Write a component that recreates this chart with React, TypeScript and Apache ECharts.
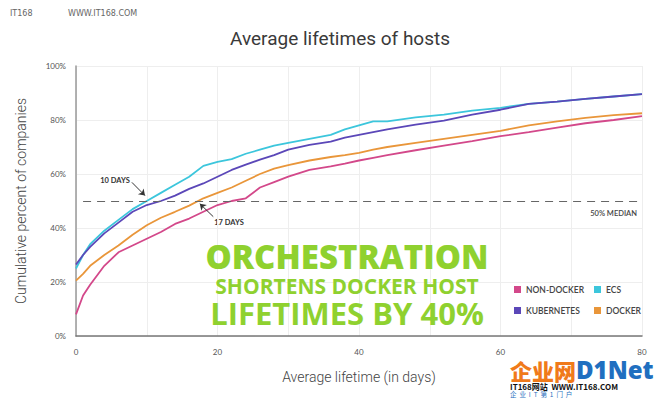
import React, { useEffect, useRef } from "react";
import * as echarts from "echarts";

const days = [0, 1, 2, 4, 6, 8, 10, 12, 14, 16, 18, 20, 22, 24, 26, 28, 30, 33, 36, 38, 40, 42, 44, 48, 52, 56, 60, 64, 68, 72, 76, 80];
const nonDocker = [8, 15, 19, 26, 31, 33.5, 36, 38.5, 41.5, 43.5, 46, 48.5, 50, 51, 55, 57, 59, 61.5, 62.8, 63.8, 65, 66, 67, 68.8, 70.5, 72.2, 74, 75.5, 77.2, 78.8, 80, 81.4];
const docker = [20.5, 23, 26, 30, 33.5, 37.5, 41, 43.8, 46, 48.3, 51, 53, 55, 57.5, 60, 62, 63.3, 65, 66.3, 67, 67.8, 69, 70, 71.5, 73, 74.5, 76, 78, 79.5, 80.8, 81.8, 82.5];
const kubernetes = [26.5, 30, 33, 38, 42, 46, 48.5, 50, 52, 54.5, 56.5, 59, 61.5, 63.5, 65.3, 67, 69, 70.8, 72, 73.5, 74.5, 75.5, 76.5, 78.3, 79.8, 82, 83.8, 86, 86.8, 87.8, 88.7, 89.6];
const ecs = [25, 30, 34, 39, 43, 47, 50, 53, 56, 59, 63, 64.5, 65.5, 67.5, 69, 70.5, 71.5, 73, 74.5, 76.5, 78, 79.5, 79.5, 81, 82, 83.5, 84.5, 86, 86.8, 87.8, 88.7, 89.6];

const median = 50;
const arrow10 = [[7.9, 56.9], [9.75, 52]];
const arrow17 = [[19.4, 44.2], [17.5, 49]];

const COLORS = {
  nonDocker: "#d3488a",
  ecs: "#3cc6dc",
  kubernetes: "#5b47b8",
  docker: "#e9963a",
};

const pairs = (ys: number[]) => days.map((d, i) => [d, ys[i]]);

export default function App() {
  const ref = useRef<HTMLDivElement>(null);
  useEffect(() => {
    document.body.style.margin = "0";
    const chart = echarts.init(ref.current!, null, { renderer: "svg" });
    const font = "Lato";
    const legendText = { fontSize: 8.5, fontWeight: 600, color: "#444", fontFamily: font };
    const green = "#8fd12f";
    chart.setOption({
      animation: false,
      backgroundColor: "#fff",
      title: {
        text: "Average lifetimes of hosts",
        left: 335,
        textAlign: "center",
        top: 24,
        textStyle: { fontSize: 19, fontWeight: 400, color: "#3a3a3a", fontFamily: "Roboto" },
      },
      grid: { left: 76, right: 28, top: 66, bottom: 62 },
      legend: [
        {
          data: ["NON-DOCKER", "KUBERNETES"],
          orient: "vertical",
          left: 509,
          top: 280,
          itemWidth: 7,
          itemHeight: 7,
          itemGap: 12,
          icon: "rect",
          textStyle: legendText,
        },
        {
          data: ["ECS", "DOCKER"],
          orient: "vertical",
          left: 589,
          top: 280,
          itemWidth: 7,
          itemHeight: 7,
          itemGap: 12,
          icon: "rect",
          textStyle: legendText,
        },
      ],
      xAxis: {
        type: "value",
        min: 0,
        max: 80,
        interval: 10,
        name: "Average lifetime (in days)",
        nameLocation: "middle",
        nameGap: 34,
        nameTextStyle: { fontSize: 14, color: "#444", fontFamily: "Roboto", fontWeight: 300 },
        axisLine: { lineStyle: { color: "#777", width: 1.5 } },
        axisTick: { show: false },
        axisLabel: {
          fontSize: 8,
          color: "#555",
          fontFamily: font,
          margin: 12,
          formatter: (v: number) => (v % 20 === 0 ? String(v) : ""),
        },
        splitLine: { show: true, lineStyle: { color: "#eeeeee" } },
      },
      yAxis: {
        type: "value",
        min: 0,
        max: 100,
        interval: 20,
        name: "Cumulative percent of companies",
        nameLocation: "middle",
        nameGap: 48,
        nameTextStyle: { fontSize: 14, color: "#444", fontFamily: "Roboto", fontWeight: 300 },
        axisLine: { show: true, lineStyle: { color: "#999", width: 1.5 } },
        axisTick: { show: false },
        axisLabel: { fontSize: 8, color: "#555", fontFamily: font, margin: 10, formatter: "{value}%" },
        splitLine: { show: true, lineStyle: { color: "#eeeeee" } },
      },
      series: [
        {
          name: "NON-DOCKER",
          type: "line",
          data: pairs(nonDocker),
          showSymbol: false,
          color: COLORS.nonDocker,
          lineStyle: { width: 1.8 },
          z: 3,
        },
        {
          name: "ECS",
          type: "line",
          data: pairs(ecs),
          showSymbol: false,
          color: COLORS.ecs,
          lineStyle: { width: 1.8 },
          z: 3,
        },
        {
          name: "KUBERNETES",
          type: "line",
          data: pairs(kubernetes),
          showSymbol: false,
          color: COLORS.kubernetes,
          lineStyle: { width: 1.8 },
          z: 4,
        },
        {
          name: "DOCKER",
          type: "line",
          data: pairs(docker),
          showSymbol: false,
          color: COLORS.docker,
          lineStyle: { width: 1.8 },
          z: 3,
          markLine: {
            silent: true,
            symbol: ["none", "none"],
            label: { show: false },
            lineStyle: { color: "#666", type: [8, 6], width: 1.2 },
            data: [
              [
                { coord: [1, median] },
                { coord: [80, median] },
              ],
            ],
          },
        },
        {
          name: "arrows",
          type: "line",
          data: [],
          markLine: {
            silent: true,
            symbol: ["none", "arrow"],
            symbolSize: 6,
            label: { show: false },
            lineStyle: { color: "#333", type: "solid", width: 1 },
            data: [
              [{ coord: arrow10[0] }, { coord: arrow10[1] }],
              [{ coord: arrow17[0] }, { coord: arrow17[1] }],
            ],
          },
        },
      ],
      graphic: [
        { type: "text", left: 10, top: 9, style: { text: "IT168", fontSize: 8, fill: "#666", fontFamily: "DejaVu Sans" } },
        { type: "text", left: 68, top: 9, style: { text: "WWW.IT168.COM", fontSize: 8, fill: "#666", fontFamily: "DejaVu Sans" } },
        { type: "text", x: 115, y: 180, style: { text: "10 DAYS", fontSize: 7.5, fontWeight: 700, fill: "#333", fontFamily: font, align: "center", verticalAlign: "middle" } },
        { type: "text", x: 229, y: 222, style: { text: "17 DAYS", fontSize: 7.5, fontWeight: 700, fill: "#333", fontFamily: font, align: "center", verticalAlign: "middle" } },
        { type: "text", x: 637, y: 213, style: { text: "50% MEDIAN", fontSize: 7.5, fontWeight: 600, fill: "#444", fontFamily: font, align: "right", verticalAlign: "middle" } },
        {
          type: "text",
          x: 347,
          y: 238,
          z: 10,
          style: {
            text: "{a|ORCHESTRATION}\n{b|SHORTENS DOCKER HOST}\n{c|LIFETIMES BY 40%}",
            align: "center",
            verticalAlign: "top",
            fill: green,
            fontFamily: "Open Sans",
            rich: {
              a: { fontSize: 33, lineHeight: 36, fontWeight: 800, fill: green, fontFamily: "Open Sans", align: "center" },
              b: { fontSize: 21, lineHeight: 23, fontWeight: 700, fill: green, fontFamily: "Open Sans", align: "center" },
              c: { fontSize: 31, lineHeight: 31, fontWeight: 700, fill: green, fontFamily: "Open Sans", align: "center" },
            },
          },
        },
        {
          type: "text",
          x: 510,
          y: 357,
          style: {
            text: "{o|企业网}{d|D1Net}\n{k|IT168网站  WWW.IT168.COM}\n{s|企  业  I  T  第  1  门  户}",
            verticalAlign: "top",
            rich: {
              o: { fontSize: 22, lineHeight: 25, fontWeight: 900, fill: "#f07a1a", fontFamily: "Noto Sans CJK SC" },
              d: { fontSize: 24, lineHeight: 25, fontWeight: 900, fill: "#1f6fc0", fontFamily: "Noto Sans" },
              k: { fontSize: 8, lineHeight: 8.5, fontWeight: 700, fill: "#111", fontFamily: "Noto Sans CJK SC" },
              s: { fontSize: 6.5, lineHeight: 7, fill: "#1f6fc0", fontFamily: "Noto Sans CJK SC" },
            },
          },
        },
      ],
    });
    return () => chart.dispose();
  }, []);
  return <div ref={ref} style={{ width: 670, height: 398 }} />;
}
